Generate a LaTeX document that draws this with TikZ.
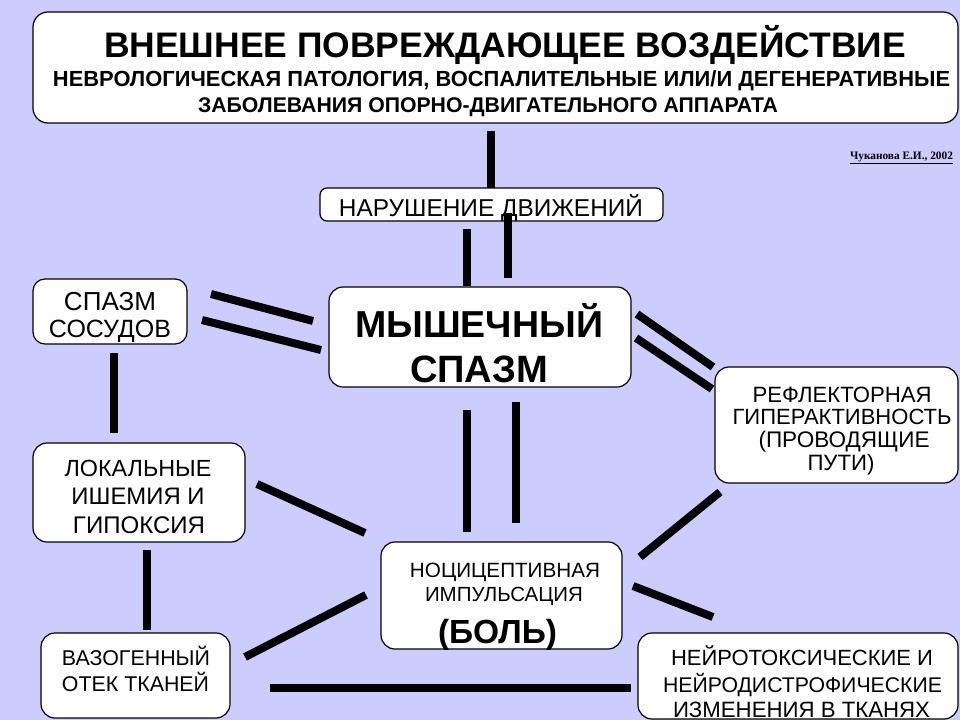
\documentclass[tikz,border=0pt]{standalone}
\usepackage{fontspec}
\setmainfont{Liberation Sans}
\newfontfamily\citefont{Liberation Serif}
\usepackage{graphicx}
\newcommand\fw[2]{\resizebox{#1pt}{!}{#2}}
\definecolor{lav}{RGB}{204,204,255}
\tikzset{
  box/.style={draw=black, line width=1.2pt, fill=white, rounded corners=14pt,
              anchor=north west, inner sep=0pt, outer sep=0pt},
  txt/.style={anchor=base, inner sep=0pt, font=\fontsize{21}{24}\selectfont},
  btxt/.style={anchor=base, inner sep=0pt, font=\bfseries\fontsize{21.5}{24}\selectfont},
  link/.style={line width=8pt, line cap=butt, draw=black},
}
\begin{document}
\begin{tikzpicture}[x=1pt,y=-1pt]
\fill[lav] (0,0) rectangle (960,720);
\useasboundingbox (0,0) rectangle (960,720);

% ---------- boxes ----------
\node[box, minimum width=925pt, minimum height=111pt, rounded corners=15pt] (top) at (33,12) {};
\node[box, minimum width=343pt, minimum height=33pt, rounded corners=7pt] (nar) at (320,188) {};
\node[box, minimum width=302pt, minimum height=100pt] (mys) at (329,287) {};
\node[box, minimum width=154pt, minimum height=65pt, rounded corners=12pt] (spz) at (33,279) {};
\node[box, minimum width=243pt, minimum height=116pt] (ref) at (715,367) {};
\node[box, minimum width=212pt, minimum height=99pt] (lok) at (33,443) {};
\node[box, minimum width=241pt, minimum height=107pt] (noc) at (381,542) {};
\node[box, minimum width=189pt, minimum height=85pt] (vaz) at (41,633) {};
\node[box, minimum width=320pt, minimum height=86pt] (ney) at (638,633) {};

% ---------- texts ----------
\node[btxt, font=\bfseries\fontsize{32}{36}\selectfont] (t-top1) at (505,57) {\fw{802}{ВНЕШНЕЕ ПОВРЕЖДАЮЩЕЕ ВОЗДЕЙСТВИЕ}};
\node[btxt] (t-top2) at (501.5,86) {\fw{897}{НЕВРОЛОГИЧЕСКАЯ ПАТОЛОГИЯ, ВОСПАЛИТЕЛЬНЫЕ ИЛИ/И ДЕГЕНЕРАТИВНЫЕ}};
\node[btxt] (t-top3) at (488,112) {\fw{580}{ЗАБОЛЕВАНИЯ ОПОРНО-ДВИГАТЕЛЬНОГО АППАРАТА}};

\node[anchor=base, inner sep=0pt, font=\citefont\bfseries\fontsize{9}{10}\selectfont] (cite) at (901.5,159) {\fw{103}{\underline{Чуканова Е.И., 2002}}};

\node[txt] (t-nar) at (491,216) {\fw{304}{НАРУШЕНИЕ ДВИЖЕНИЙ}};

\node[btxt, font=\bfseries\fontsize{40}{45}\selectfont] (t-mys1) at (479,337) {\fw{248}{МЫШЕЧНЫЙ}};
\node[btxt, font=\bfseries\fontsize{40}{45}\selectfont] (t-mys2) at (479,382) {\fw{138}{СПАЗМ}};

\node[txt] (t-spz1) at (110,310) {\fw{92}{СПАЗМ}};
\node[txt] (t-spz2) at (110,337) {\fw{122}{СОСУДОВ}};

\node[txt] (t-ref1) at (842,402) {\fw{179}{РЕФЛЕКТОРНАЯ}};
\node[txt] (t-ref2) at (842,424) {\fw{219}{ГИПЕРАКТИВНОСТЬ}};
\node[txt] (t-ref3) at (844,447) {\fw{171}{(ПРОВОДЯЩИЕ}};
\node[txt] (t-ref4) at (841,470) {\fw{67}{ПУТИ)}};

\node[txt] (t-lok1) at (138,476) {\fw{147}{ЛОКАЛЬНЫЕ}};
\node[txt] (t-lok2) at (138,504) {\fw{133}{ИШЕМИЯ И}};
\node[txt] (t-lok3) at (139,533) {\fw{132}{ГИПОКСИЯ}};

\node[txt] (t-noc1) at (505,577) {\fw{190}{НОЦИЦЕПТИВНАЯ}};
\node[txt] (t-noc2) at (504,601) {\fw{158}{ИМПУЛЬСАЦИЯ}};
\node[btxt, font=\bfseries\fontsize{36}{40}\selectfont] (t-noc3) at (497.5,643) {\fw{119}{(БОЛЬ)}};

\node[txt] (t-vaz1) at (136,665) {\fw{148}{ВАЗОГЕННЫЙ}};
\node[txt] (t-vaz2) at (135.5,691) {\fw{147}{ОТЕК ТКАНЕЙ}};

\node[txt] (t-ney1) at (802,665) {\fw{262}{НЕЙРОТОКСИЧЕСКИЕ И}};
\node[txt] (t-ney2) at (802.5,692) {\fw{279}{НЕЙРОДИСТРОФИЧЕСКИЕ}};
\node[txt] (t-ney3) at (801.5,717) {\fw{257}{ИЗМЕНЕНИЯ В ТКАНЯХ}};

% ---------- connector end points ----------
\coordinate (a1) at (491,131); \coordinate (b1) at (491,188);
\coordinate (a2) at (467,229); \coordinate (b2) at (467,286);
\coordinate (a3) at (508,213); \coordinate (b3) at (508,278);
\coordinate (a4) at (211,294); \coordinate (b4) at (313,321);
\coordinate (a5) at (202,320); \coordinate (b5) at (321,350);
\coordinate (a6) at (637,314); \coordinate (b6) at (713,367);
\coordinate (a7) at (636,338); \coordinate (b7) at (712,389);
\coordinate (a8) at (114,353); \coordinate (b8) at (114,433);
\coordinate (a9) at (467,410); \coordinate (b9) at (467,532);
\coordinate (a10) at (516,402); \coordinate (b10) at (516,523);
\coordinate (a11) at (257,484); \coordinate (b11) at (365,533);
\coordinate (a12) at (720,492); \coordinate (b12) at (640,557);
\coordinate (a13) at (633,586); \coordinate (b13) at (713,617);
\coordinate (a14) at (245,657); \coordinate (b14) at (366,595);
\coordinate (a15) at (147,550); \coordinate (b15) at (147,630);
\coordinate (a16) at (270,688); \coordinate (b16) at (631,688);

% ---------- connectors ----------
\foreach \i in {1,...,16} { \draw[link] (a\i) -- (b\i); }
\end{tikzpicture}
\end{document}
